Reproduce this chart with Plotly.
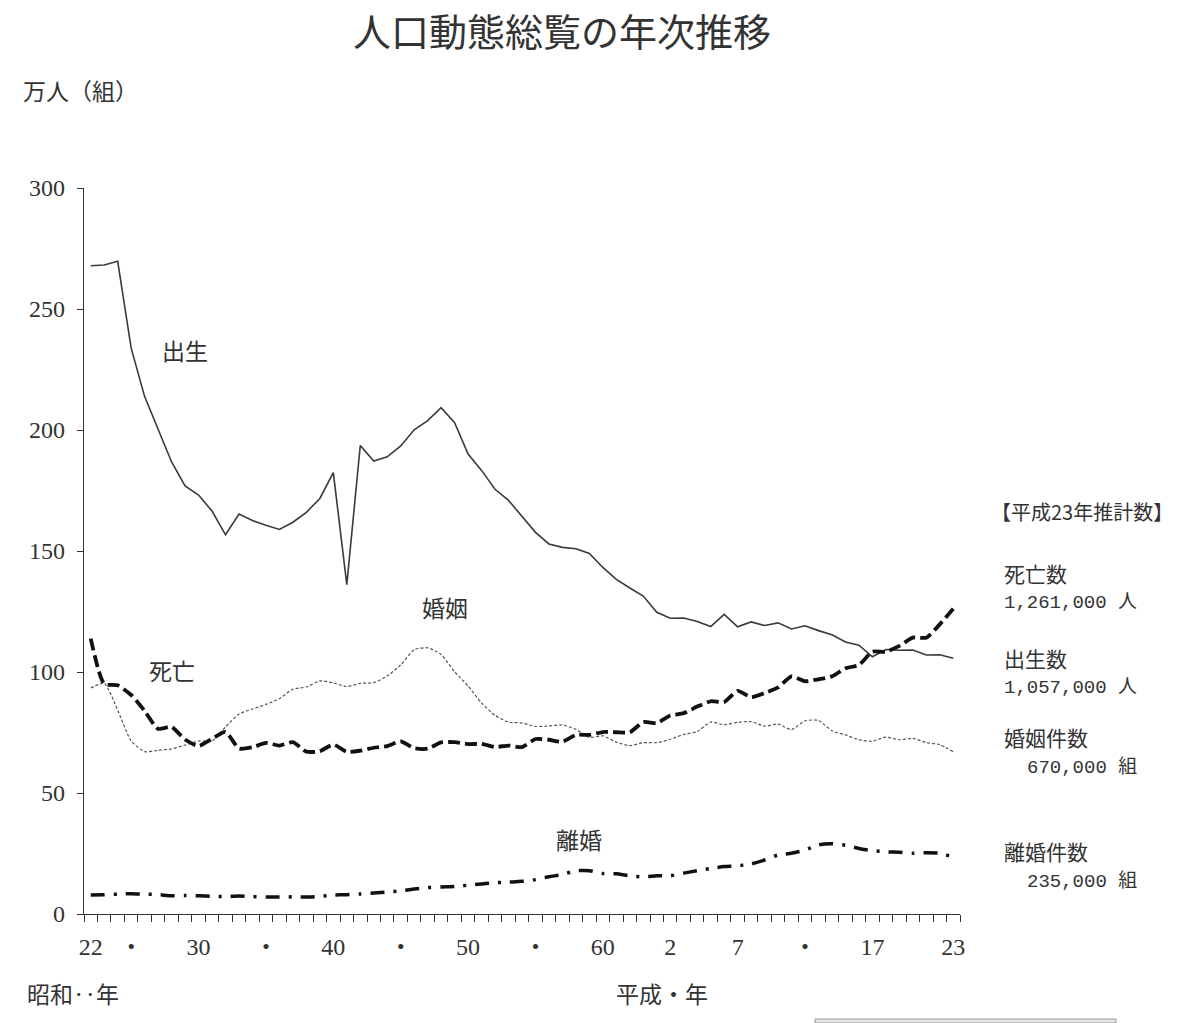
import plotly.graph_objects as go

years = list(range(1947, 2012))

births = [267.9, 268.2, 269.7, 233.8, 213.8, 200.5, 186.8, 176.9, 173.1, 166.5,
          156.7, 165.3, 162.6, 160.6, 158.9, 161.9, 166.0, 171.7, 182.4, 136.1,
          193.6, 187.2, 188.9, 193.4, 200.1, 203.9, 209.2, 203.0, 190.1, 183.3,
          175.5, 170.9, 164.3, 157.7, 152.9, 151.5, 150.9, 149.0, 143.2, 138.3,
          134.7, 131.4, 124.7, 122.2, 122.3, 120.9, 118.8, 123.8, 118.7, 120.7,
          119.2, 120.3, 117.8, 119.1, 117.1, 115.4, 112.4, 111.1, 106.3, 109.3,
          109.0, 109.1, 107.0, 107.1, 105.7]

deaths = [113.8, 95.1, 94.5, 90.5, 83.9, 76.5, 77.3, 72.1, 69.4, 72.4,
          75.2, 68.4, 68.9, 70.7, 69.6, 71.0, 67.1, 67.3, 70.0, 67.0,
          67.5, 68.7, 69.4, 71.3, 68.5, 68.3, 70.9, 71.0, 70.2, 70.3,
          69.0, 69.6, 69.0, 72.3, 72.0, 71.2, 74.0, 74.0, 75.2, 75.1,
          75.1, 79.3, 78.9, 82.0, 83.0, 85.7, 87.9, 87.6, 92.2, 89.6,
          91.3, 93.6, 98.2, 96.2, 97.0, 98.2, 101.5, 102.9, 108.4, 108.4,
          110.8, 114.2, 114.2, 119.7, 126.1]

marriages = [93.4, 95.3, 84.2, 71.5, 67.1, 67.7, 68.2, 69.8, 71.5, 71.5,
             77.3, 82.6, 84.7, 86.6, 89.0, 92.9, 93.8, 96.3, 95.5, 94.0,
             95.3, 95.6, 98.4, 102.9, 109.2, 110.0, 107.2, 100.1, 94.2, 87.2,
             82.1, 79.3, 78.9, 77.5, 77.7, 78.1, 76.3, 73.0, 73.6, 71.0,
             69.6, 70.8, 70.8, 72.2, 74.2, 75.4, 79.3, 78.2, 79.2, 79.5,
             77.6, 78.5, 76.2, 79.8, 80.0, 75.7, 74.0, 72.0, 71.4, 73.1,
             72.0, 72.6, 70.8, 70.0, 67.0]

divorces = [7.9, 8.0, 8.2, 8.4, 8.2, 8.0, 7.5, 7.6, 7.5, 7.3,
            7.2, 7.4, 7.2, 7.0, 7.0, 7.1, 7.0, 7.3, 7.8, 8.0,
            8.3, 8.7, 9.1, 9.6, 10.3, 10.9, 11.2, 11.4, 11.9, 12.4,
            12.9, 13.2, 13.5, 14.2, 15.4, 16.3, 17.9, 17.9, 16.7, 16.6,
            15.8, 15.3, 15.8, 15.8, 16.9, 17.9, 18.8, 19.6, 19.9, 20.7,
            22.3, 24.4, 25.1, 26.4, 28.6, 29.0, 28.4, 27.1, 26.2, 25.7,
            25.5, 25.1, 25.3, 25.1, 23.5]

x_label_years = [1947, 1950, 1955, 1960, 1965, 1970, 1975, 1980, 1985, 1990, 1995, 2000, 2005, 2011]
x_label_text = ["22", "・", "30", "・", "40", "・", "50", "・", "60", "2", "7", "・", "17", "23"]

series_labels = [("出生", 1954.0, 233), ("死亡", 1953.0, 101), ("婚姻", 1973.3, 127), ("離婚", 1983.2, 31)]

summary_title = "【平成23年推計数】"
summary_lines = [("死亡数", 0, "jp"), ("1,261,000 人", 0, "num"), ("出生数", 0, "jp"), ("1,057,000 人", 0, "num"),
                 ("婚姻件数", 0, "jp"), ("670,000 組", 1, "num"), ("離婚件数", 0, "jp"), ("235,000 組", 1, "num")]

FONT = "Liberation Serif, Noto Sans CJK JP, serif"
JP = "Noto Sans CJK JP, sans-serif"
MONO = "Liberation Mono, Noto Sans CJK JP, monospace"

fig = go.Figure()
fig.add_trace(go.Scatter(x=years, y=births, mode="lines",
                         line=dict(color="#3a3a3a", width=1.6), name="出生"))
fig.add_trace(go.Scatter(x=years, y=marriages, mode="lines",
                         line=dict(color="#555555", width=1.2, dash="3px,2px", shape="spline", smoothing=0.6),
                         name="婚姻"))
fig.add_trace(go.Scatter(x=years, y=deaths, mode="lines",
                         line=dict(color="#111111", width=3.8, dash="12px,5px", shape="spline", smoothing=0.6),
                         name="死亡"))
fig.add_trace(go.Scatter(x=years, y=divorces, mode="lines",
                         line=dict(color="#111111", width=3.5, dash="14px,9px,3px,9px", shape="spline", smoothing=0.6),
                         name="離婚"))

annotations = []
for txt, xx, yy in series_labels:
    annotations.append(dict(text=txt, x=xx, y=yy, xref="x", yref="y", showarrow=False,
                            font=dict(family=JP, size=23, color="#333")))

fig.update_layout(
    width=1200, height=1023,
    margin=dict(l=84, r=240, t=188, b=109),
    paper_bgcolor="white", plot_bgcolor="white",
    showlegend=False,
    font=dict(family=FONT, size=20, color="#333"),
    xaxis=dict(range=[1946.5, 2011.5], showgrid=False, zeroline=False,
               showline=True, linecolor="#333", linewidth=1.2,
               tickmode="array", tickvals=x_label_years, ticktext=x_label_text,
               ticks="", ticklabelstandoff=11,
               minor=dict(tickmode="array", tickvals=[y - 0.5 for y in years] + [2011.5],
                          ticks="outside", ticklen=7, tickcolor="#333", tickwidth=1),
               tickfont=dict(family=FONT, size=24, color="#333")),
    yaxis=dict(range=[0, 300], showgrid=False, zeroline=False,
               showline=True, linecolor="#333", linewidth=1.2,
               tickvals=[0, 50, 100, 150, 200, 250, 300],
               ticks="outside", ticklen=6, tickcolor="#333", ticklabelstandoff=7,
               tickfont=dict(family=FONT, size=24, color="#333")),
)


def px(x, y):
    return (x - 84) / (1200 - 84 - 240), (1023 - 109 - y) / (1023 - 188 - 109)


def add_text(txt, x, y, size=20, anchor="left", family=JP, yanchor="middle"):
    xx, yy = px(x, y)
    annotations.append(dict(text=txt, x=xx, y=yy, xref="paper", yref="paper", showarrow=False,
                            xanchor=anchor, yanchor=yanchor, borderpad=0,
                            font=dict(family=family, size=size, color="#333")))


add_text("人口動態総覧の年次推移", 562, 1, size=38, anchor="center", yanchor="top")
add_text("万人（組）", 22, 90, size=23)
add_text("昭和‥年", 26, 993, size=23)
add_text("平成・年", 615, 993, size=23)
add_text(summary_title, 990, 511, size=20)
ys = [573, 603, 658, 688, 737, 767, 851, 881]
for (txt, indent, kind), yy in zip(summary_lines, ys):
    if kind == "jp":
        add_text(txt, 1003, yy, size=21, family=JP)
    else:
        add_text(txt, 1003 + indent * 23, yy, size=19, family=MONO)

fig.update_layout(annotations=annotations)
fig.add_shape(type="rect", xref="paper", yref="paper",
              x0=px(815, 0)[0], x1=px(1116, 0)[0], y0=px(0, 1023)[1], y1=px(0, 1019)[1],
              line=dict(color="#999", width=1), fillcolor="#e6e6e6")

fig.write_html("out.html")
